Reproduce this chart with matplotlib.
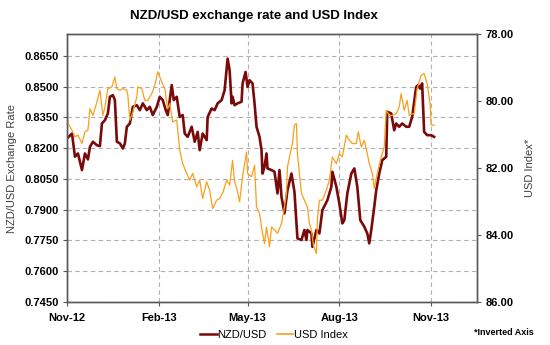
import matplotlib
matplotlib.use("Agg")
import matplotlib.pyplot as plt
import matplotlib.dates as mdates
from matplotlib.lines import Line2D
import pandas as pd

plt.rcParams["font.family"] = ["Liberation Sans", "DejaVu Sans"]

START = pd.Timestamp("2012-11-01")

# NZD/USD (days after 1 Nov 2012)
nzd_days = [0, 5, 8, 11, 15, 18, 21, 23, 26, 30, 33, 35, 38, 41, 43, 46, 48, 50, 53, 56,
            58, 60, 63, 66, 70, 73, 76, 80, 83, 86, 90, 93, 96, 99, 101, 105, 107, 110, 113, 116,
            118, 121, 125, 128, 131, 133, 136, 140, 141, 145, 148, 151, 155, 158, 161, 163, 165, 166, 168, 171,
            175, 176, 179, 181, 183, 186, 188, 190, 193, 195, 196, 198, 200, 201, 205, 208, 211, 213, 215, 218,
            221, 225, 228, 231, 235, 238, 240, 241, 245, 246, 250, 253, 256, 261, 265, 266, 270, 273, 276, 278,
            281, 285, 288, 291, 294, 298, 301, 303, 305, 308, 310, 313, 316, 320, 321, 325, 328, 330, 333, 336,
            340, 343, 346, 350, 352, 354, 356, 358, 361, 365, 368]
nzd_vals = [0.8247, 0.8271, 0.8158, 0.8174, 0.8093, 0.8174, 0.8145, 0.8206, 0.8231, 0.8214,
            0.8210, 0.8320, 0.8336, 0.8369, 0.8450, 0.8458, 0.8434, 0.8231, 0.8223, 0.8198,
            0.8223, 0.8304, 0.8320, 0.8401, 0.8409, 0.8385, 0.8418, 0.8385, 0.8401, 0.8361,
            0.8401, 0.8450, 0.8434, 0.8385, 0.8361, 0.8507, 0.8434, 0.8450, 0.8352, 0.8361,
            0.8271, 0.8255, 0.8304, 0.8231, 0.8279, 0.8190, 0.8271, 0.8239, 0.8352, 0.8393,
            0.8385, 0.8418, 0.8434, 0.8482, 0.8636, 0.8580, 0.8418, 0.8450, 0.8409, 0.8418,
            0.8426, 0.8515, 0.8571, 0.8498, 0.8531, 0.8515, 0.8418, 0.8304, 0.8255, 0.8190,
            0.8076, 0.8109, 0.8174, 0.8101, 0.8093, 0.8085, 0.7979, 0.8093, 0.7963, 0.7882,
            0.7995, 0.8076, 0.7987, 0.7760, 0.7752, 0.7801, 0.7752, 0.7801, 0.7784, 0.7719,
            0.7801, 0.7784, 0.7898, 0.7946, 0.8012, 0.8085, 0.8012, 0.7930, 0.7833, 0.7849,
            0.7979, 0.8076, 0.8101, 0.8012, 0.7849, 0.7817, 0.7784, 0.7736, 0.7801, 0.7914,
            0.7995, 0.8076, 0.8141, 0.8158, 0.8377, 0.8369, 0.8287, 0.8320, 0.8304, 0.8320,
            0.8304, 0.8304, 0.8352, 0.8498, 0.8507, 0.8490, 0.8515, 0.8279, 0.8263, 0.8263,
            0.8255]

# USD Index (plotted on an inverted axis)
usd_days = [0, 1, 5, 8, 11, 15, 18, 21, 23, 26, 30, 33, 36, 38, 41, 45, 48, 50, 53, 56,
            60, 61, 63, 66, 70, 71, 75, 78, 81, 85, 88, 91, 95, 98, 101, 103, 106, 110, 113, 116,
            120, 123, 126, 130, 133, 136, 140, 143, 146, 150, 153, 156, 160, 163, 166, 168, 171, 173, 176, 180,
            181, 185, 188, 190, 193, 196, 198, 200, 203, 205, 208, 211, 215, 218, 220, 221, 223, 226, 228, 230,
            231, 235, 238, 241, 243, 245, 247, 250, 251, 253, 256, 260, 263, 266, 270, 273, 276, 280, 283, 286,
            290, 292, 295, 298, 301, 303, 306, 308, 311, 315, 318, 320, 323, 326, 330, 333, 335, 338, 341, 343,
            346, 348, 351, 355, 358, 361, 364, 365, 368]
usd_vals = [79.98, 80.67, 80.87, 81.07, 81.02, 81.27, 80.92, 80.87, 80.23, 80.43,
            80.03, 79.68, 80.43, 80.18, 79.63, 79.58, 79.28, 79.63, 79.68, 79.63,
            79.68, 79.83, 80.57, 80.33, 79.88, 79.58, 79.63, 79.98, 79.98, 79.78,
            79.53, 79.13, 79.43, 79.63, 80.23, 80.08, 80.62, 80.57, 81.47, 81.87,
            82.16, 82.36, 82.16, 82.56, 82.36, 82.91, 82.41, 82.66, 83.21, 82.96,
            82.91, 82.76, 82.36, 82.51, 81.77, 82.41, 82.71, 83.01, 82.26, 81.52,
            82.16, 82.26, 81.92, 83.16, 83.36, 83.95, 84.25, 83.76, 84.35, 83.76,
            83.85, 83.95, 83.66, 83.16, 82.76, 81.97, 81.67, 81.27, 80.72, 80.67,
            81.57, 82.76, 82.96, 83.16, 83.66, 83.85, 84.30, 84.55, 83.56, 82.96,
            82.96, 82.66, 82.36, 81.67, 81.87, 81.57, 81.67, 81.02, 81.17, 81.27,
            81.27, 80.92, 81.37, 81.17, 81.57, 81.87, 82.16, 82.61, 82.16, 81.67,
            81.37, 80.28, 80.43, 80.43, 80.38, 80.18, 79.78, 80.28, 79.98, 80.43,
            80.38, 80.38, 79.63, 79.23, 79.18, 79.48, 80.08, 80.72, 80.72]

nzd_ticks = [0.7450, 0.7600, 0.7750, 0.7900, 0.8050, 0.8200, 0.8350, 0.8500, 0.8650]
usd_ticks = [78, 80, 82, 84, 86]
month_ticks = ["2012-11-01", "2013-02-01", "2013-05-01", "2013-08-01", "2013-11-01"]

NZD_COLOR = "#7a0a0a"
USD_COLOR = "#f9a01b"
EDGE = "#595959"

nzd_dates = START + pd.to_timedelta(nzd_days, unit="D")
usd_dates = START + pd.to_timedelta(usd_days, unit="D")

fig = plt.figure(figsize=(5.5, 3.45), dpi=100)
ax = fig.add_axes([0.1218, 0.1246, 0.7455, 0.7768])
ax2 = ax.twinx()

ax.plot(nzd_dates, nzd_vals, color=NZD_COLOR, linewidth=1.9, solid_joinstyle="round")
ax2.plot(usd_dates, usd_vals, color=USD_COLOR, linewidth=0.9)

ax.set_xlim(START, pd.Timestamp("2013-12-17"))
ax.set_ylim(0.7450, 0.8756)
ax2.set_ylim(86, 78)

ax.set_yticks(nzd_ticks)
ax.set_yticklabels([f"{v:.4f}" for v in nzd_ticks])
ax2.set_yticks(usd_ticks)
ax2.set_yticklabels([f"{v:.2f}" for v in usd_ticks])
ax.set_xticks(pd.to_datetime(month_ticks))
ax.xaxis.set_major_formatter(mdates.DateFormatter("%b-%y"))

ax.grid(True, color="#b0b0b0", linestyle=(0, (4, 3)), linewidth=0.8)
ax.set_axisbelow(True)

for a in (ax, ax2):
    for sp in a.spines.values():
        sp.set_color(EDGE)
        sp.set_linewidth(1.0)
    a.tick_params(length=3, width=0.8, color=EDGE, labelsize=8, pad=3)
    for lbl in a.get_xticklabels() + a.get_yticklabels():
        lbl.set_fontweight("bold")
ax.tick_params(axis="x", pad=5)

ax.set_ylabel("NZD/USD Exchange Rate", fontsize=8, color="#404040", labelpad=5)
ax2.set_ylabel("USD Index*", fontsize=8, color="#404040", labelpad=8)

fig.text(0.462, 0.955, "NZD/USD exchange rate and USD Index", ha="center", va="center",
         fontsize=9.5, fontweight="bold")

handles = [Line2D([], [], color=NZD_COLOR, linewidth=1.8),
           Line2D([], [], color=USD_COLOR, linewidth=1.2)]
fig.legend(handles, ["NZD/USD", "USD Index"], loc="center", bbox_to_anchor=(0.498, 0.028),
           ncol=2, frameon=False, fontsize=8, handlelength=1.5, handletextpad=0.05,
           columnspacing=0.9)
fig.text(0.97, 0.035, "*Inverted Axis", ha="right", va="center", fontsize=6.5, fontweight="bold")

fig.savefig("out.png", dpi=100)
